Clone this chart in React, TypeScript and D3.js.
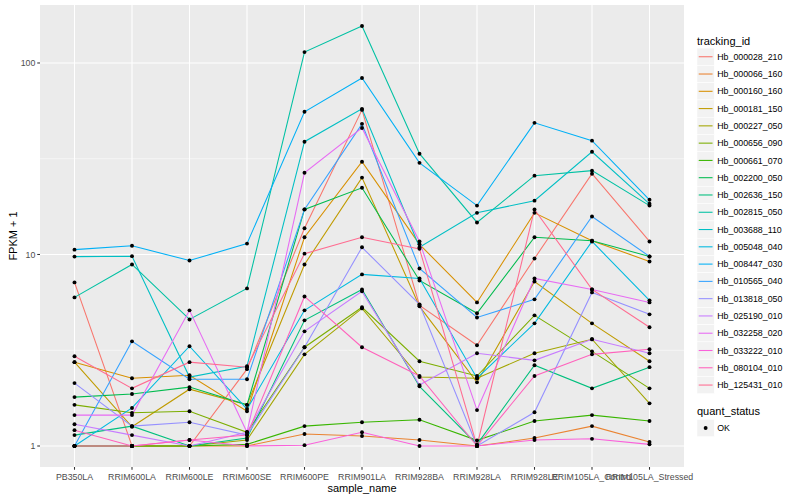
import React from "react";
import * as d3 from "d3";

const samples = [
  "PB350LA", "RRIM600LA", "RRIM600LE", "RRIM600SE", "RRIM600PE", "RRIM901LA",
  "RRIM928BA", "RRIM928LA", "RRIM928LE", "RRIM105LA_Control", "RRIM105LA_Stressed",
];

const hb000028_210 = [7.15, 1.0, 1.0, 2.52, 13.7, 56.9, 5.42, 3.36, 9.53, 26.4, 11.7];
const hb000066_160 = [1.0, 1.0, 1.0, 1.0, 1.155, 1.127, 1.075, 1.0, 1.1, 1.27, 1.049];
const hb000160_160 = [2.74, 2.26, 2.34, 1.52, 12.3, 30.5, 11.3, 5.62, 16.5, 11.8, 9.19];
const hb000181_150 = [2.74, 1.26, 1.98, 1.64, 8.87, 25.2, 5.36, 2.15, 7.23, 4.37, 2.77];
const hb000227_050 = [1.0, 1.0, 1.0, 1.075, 3.01, 5.23, 2.29, 2.26, 3.05, 3.61, 1.67];
const hb000656_090 = [1.64, 1.49, 1.52, 1.18, 3.28, 5.3, 2.77, 2.32, 4.81, 3.12, 2.0];
const hb000661_070 = [1.0, 1.0, 1.0, 1.02, 1.27, 1.33, 1.37, 1.07, 1.35, 1.45, 1.35];
const hb002200_050 = [1.8, 1.87, 2.03, 1.64, 17.2, 22.3, 7.32, 4.93, 12.3, 11.8, 9.77];
const hb002636_150 = [1.14, 1.27, 1.0, 1.1, 4.53, 6.57, 2.05, 1.02, 2.64, 2.0, 2.58];
const hb002815_050 = [5.97, 8.87, 4.58, 6.65, 114, 156, 33.6, 14.7, 25.8, 27.4, 18.0];
const hb003688_110 = [9.75, 9.8, 2.29, 2.61, 38.8, 57.6, 10.9, 16.5, 19.1, 34.4, 18.4];
const hb005048_040 = [1.0, 1.58, 3.32, 1.56, 5.11, 7.87, 7.5, 2.26, 4.37, 11.7, 5.76];
const hb008447_030 = [10.6, 11.1, 9.3, 11.4, 55.6, 83.5, 30.1, 18.0, 48.7, 39.3, 19.3];
const hb010565_040 = [1.0, 3.52, 2.23, 2.23, 17.2, 48.1, 8.45, 4.69, 5.83, 15.8, 9.77];
const hb013818_050 = [2.13, 1.27, 1.33, 1.14, 3.28, 10.9, 5.49, 1.0, 1.5, 6.34, 4.87];
const hb025190_010 = [1.3, 1.14, 1.0, 1.18, 3.97, 6.42, 2.08, 3.05, 2.8, 3.61, 3.05];
const hb032258_020 = [1.45, 1.45, 5.11, 1.18, 26.7, 45.8, 11.7, 1.54, 7.5, 6.57, 5.62];
const hb033222_010 = [1.0, 1.0, 1.075, 1.0, 1.01, 1.18, 1.0, 1.0, 1.075, 1.09, 1.02];
const hb080104_010 = [1.21, 1.0, 1.075, 1.14, 6.04, 3.28, 2.32, 1.0, 2.32, 3.01, 3.2];
const hb125431_010 = [2.94, 2.0, 2.74, 2.58, 10.1, 12.3, 10.7, 1.0, 17.2, 6.57, 4.17];

const trackingIds = [
  "Hb_000028_210", "Hb_000066_160", "Hb_000160_160", "Hb_000181_150", "Hb_000227_050",
  "Hb_000656_090", "Hb_000661_070", "Hb_002200_050", "Hb_002636_150", "Hb_002815_050",
  "Hb_003688_110", "Hb_005048_040", "Hb_008447_030", "Hb_010565_040", "Hb_013818_050",
  "Hb_025190_010", "Hb_032258_020", "Hb_033222_010", "Hb_080104_010", "Hb_125431_010",
];

const seriesValues = [
  hb000028_210, hb000066_160, hb000160_160, hb000181_150, hb000227_050,
  hb000656_090, hb000661_070, hb002200_050, hb002636_150, hb002815_050,
  hb003688_110, hb005048_040, hb008447_030, hb010565_040, hb013818_050,
  hb025190_010, hb032258_020, hb033222_010, hb080104_010, hb125431_010,
];

const colors = [
  "#F8766D", "#EA8331", "#D89000", "#C09B00", "#A3A500", "#7CAE00", "#39B600",
  "#00BB4E", "#00BF7D", "#00C1A3", "#00BFC4", "#00BAE0", "#00B0F6", "#35A2FF",
  "#9590FF", "#C77CFF", "#E76BF3", "#FA62DB", "#FF62BC", "#FF6C91",
];

const yTicks = [1, 10, 100];
const quantStatus = ["OK"];

const FONT = "'Liberation Sans', Arial, Helvetica, sans-serif";

export default function App() {
  const W = 800, H = 500;
  const pl = 40, pr = 684, pt = 5, pb = 467;

  const x = d3.scalePoint<string>().domain(samples).range([pl, pr]).padding(0.6);
  const all = seriesValues.flat();
  const ext = d3.extent(all) as [number, number];
  const lo = Math.log10(ext[0]);
  const hi = Math.log10(ext[1]);
  const pad = (hi - lo) * 0.05;
  const y = d3.scaleLog().domain([Math.pow(10, lo - pad), Math.pow(10, hi + pad)]).range([pb, pt]);

  const minor = [Math.pow(10, 0.5), Math.pow(10, 1.5)];
  const line = d3
    .line<number>()
    .x((_, i) => x(samples[i]) as number)
    .y((d) => y(d));

  const keySize = 17.28;
  const legX = 697;
  const legTop = 48.1;

  return (
    <div style={{ position: "fixed", left: 0, top: 0 }}>
      <svg width={W} height={H} style={{ display: "block", fontFamily: FONT }}>
        <rect x={0} y={0} width={W} height={H} fill="#FFFFFF" />
        <rect x={pl} y={pt} width={pr - pl} height={pb - pt} fill="#EBEBEB" />
        {minor.map((m, i) => (
          <line key={"mn" + i} x1={pl} x2={pr} y1={y(m)} y2={y(m)} stroke="#FFFFFF" strokeWidth={0.55} />
        ))}
        {yTicks.map((t) => (
          <line key={"mj" + t} x1={pl} x2={pr} y1={y(t)} y2={y(t)} stroke="#FFFFFF" strokeWidth={1.07} />
        ))}
        {samples.map((s) => (
          <line key={"vx" + s} x1={x(s)} x2={x(s)} y1={pt} y2={pb} stroke="#FFFFFF" strokeWidth={1.07} />
        ))}
        {seriesValues.map((vals, i) => (
          <path key={"ln" + i} d={line(vals) || ""} fill="none" stroke={colors[i]} strokeWidth={1.07} />
        ))}
        {seriesValues.map((vals, i) =>
          vals.map((v, j) => (
            <circle key={"pt" + i + "_" + j} cx={x(samples[j])} cy={y(v)} r={1.95} fill="#000000" />
          ))
        )}
        {yTicks.map((t) => (
          <g key={"yt" + t}>
            <line x1={pl - 2.75} x2={pl} y1={y(t)} y2={y(t)} stroke="#333333" strokeWidth={1.07} />
            <text x={pl - 4.6} y={y(t) + 3.1} fontSize={8.8} fill="#4D4D4D" textAnchor="end">
              {t}
            </text>
          </g>
        ))}
        {samples.map((s) => (
          <g key={"xt" + s}>
            <line x1={x(s)} x2={x(s)} y1={pb} y2={pb + 2.75} stroke="#333333" strokeWidth={1.07} />
            <text x={x(s)} y={pb + 12.6} fontSize={8.8} fill="#4D4D4D" textAnchor="middle">
              {s}
            </text>
          </g>
        ))}
        <text x={(pl + pr) / 2} y={492} fontSize={11} fill="#000000" textAnchor="middle">
          sample_name
        </text>
        <text
          transform={`translate(17, ${(pt + pb) / 2}) rotate(-90)`}
          fontSize={11}
          fill="#000000"
          textAnchor="middle"
        >
          FPKM + 1
        </text>
        <text x={legX} y={44.5} fontSize={11} fill="#000000">
          tracking_id
        </text>
        {trackingIds.map((id, i) => {
          const top = legTop + i * keySize;
          return (
            <g key={"lg" + id}>
              <rect x={legX} y={top} width={keySize} height={keySize} fill="#F2F2F2" stroke="#FFFFFF" strokeWidth={0.5} />
              <line
                x1={legX + keySize * 0.1}
                x2={legX + keySize * 0.9}
                y1={top + keySize / 2}
                y2={top + keySize / 2}
                stroke={colors[i]}
                strokeWidth={1.07}
              />
              <text x={legX + keySize + 3} y={top + keySize / 2 + 3.1} fontSize={8.8} fill="#000000">
                {id}
              </text>
            </g>
          );
        })}
        <text x={legX} y={415} fontSize={11} fill="#000000">
          quant_status
        </text>
        {quantStatus.map((q, i) => {
          const top = 419.4 + i * keySize;
          return (
            <g key={"qs" + q}>
              <rect x={legX} y={top} width={keySize} height={keySize} fill="#F2F2F2" stroke="#FFFFFF" strokeWidth={0.5} />
              <circle cx={legX + keySize / 2} cy={top + keySize / 2} r={1.95} fill="#000000" />
              <text x={legX + keySize + 3} y={top + keySize / 2 + 3.1} fontSize={8.8} fill="#000000">
                {q}
              </text>
            </g>
          );
        })}
      </svg>
    </div>
  );
}
